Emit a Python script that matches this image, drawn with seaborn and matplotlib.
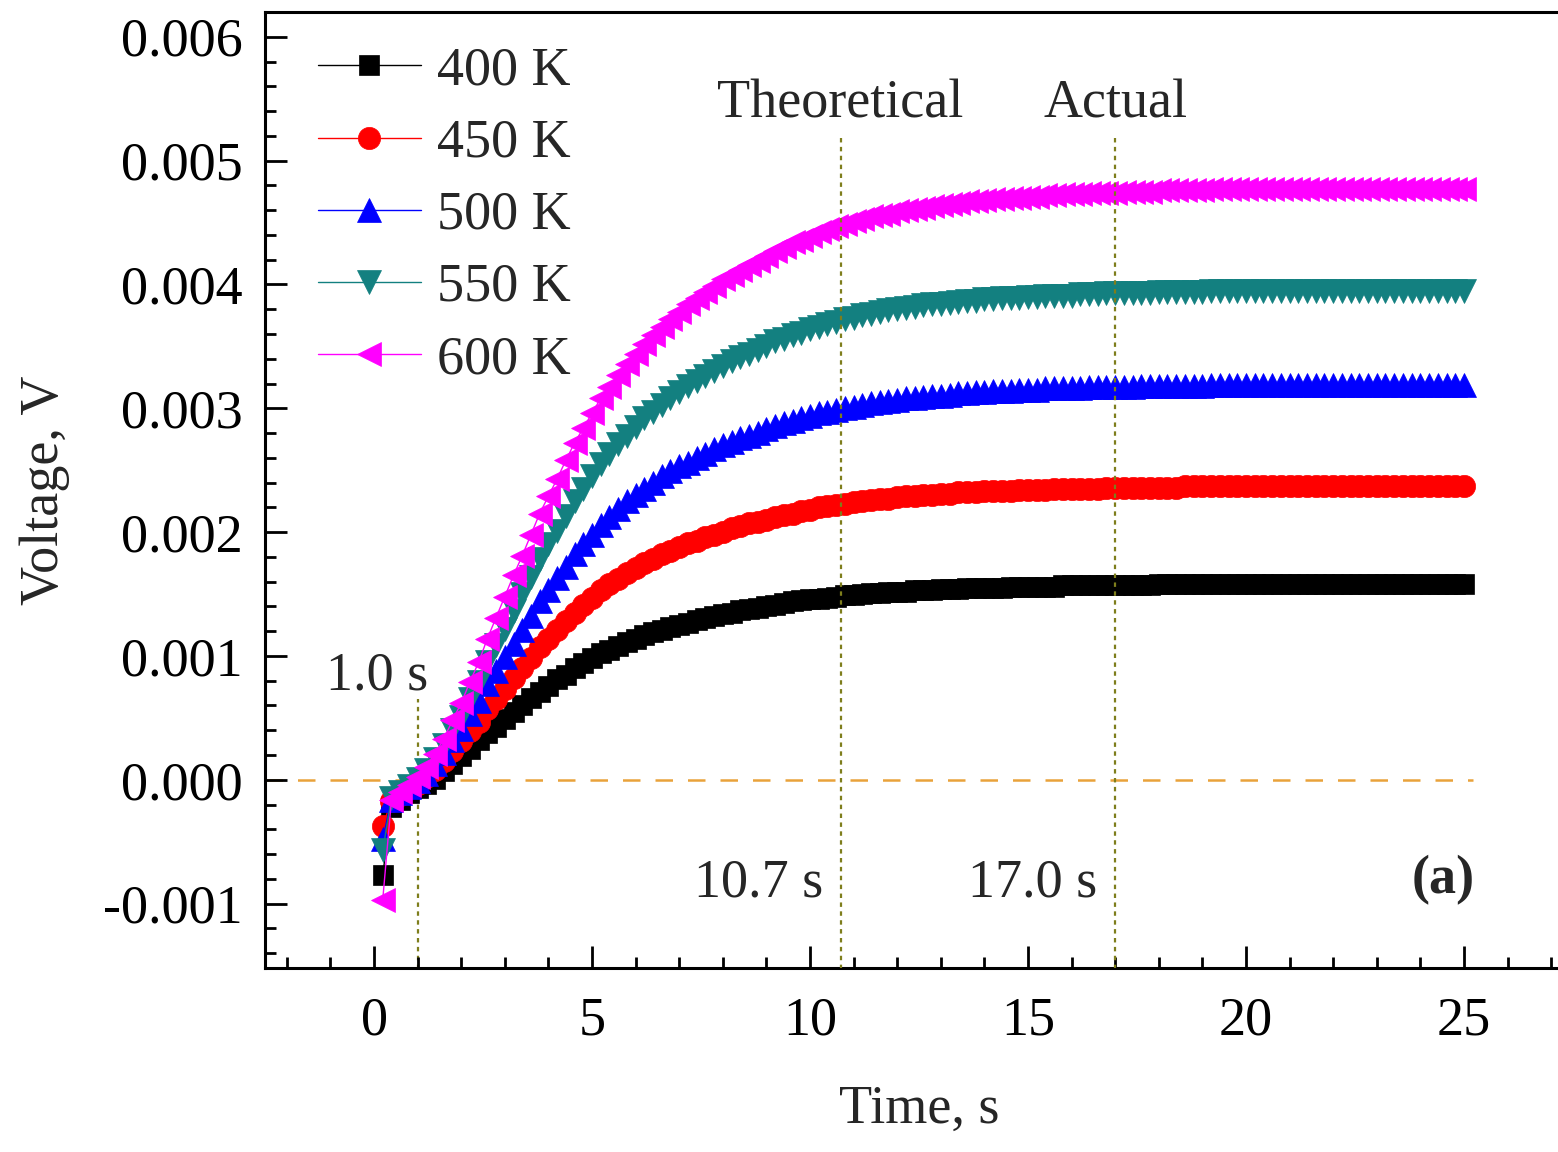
import matplotlib
matplotlib.use("Agg")
import matplotlib.pyplot as plt
from matplotlib.ticker import MultipleLocator, FuncFormatter
import numpy as np
import pandas as pd
import seaborn as sns

# ---- data: thermoelectric voltage response (mV) sampled every 0.2 s ----
time_s = [
    0.2, 0.4, 0.6, 0.8, 1.0, 1.2, 1.4, 1.6, 1.8, 2.0,
    2.2, 2.4, 2.6, 2.8, 3.0, 3.2, 3.4, 3.6, 3.8, 4.0,
    4.2, 4.4, 4.6, 4.8, 5.0, 5.2, 5.4, 5.6, 5.8, 6.0,
    6.2, 6.4, 6.6, 6.8, 7.0, 7.2, 7.4, 7.6, 7.8, 8.0,
    8.2, 8.4, 8.6, 8.8, 9.0, 9.2, 9.4, 9.6, 9.8, 10.0,
    10.2, 10.4, 10.6, 10.8, 11.0, 11.2, 11.4, 11.6, 11.8, 12.0,
    12.2, 12.4, 12.6, 12.8, 13.0, 13.2, 13.4, 13.6, 13.8, 14.0,
    14.2, 14.4, 14.6, 14.8, 15.0, 15.2, 15.4, 15.6, 15.8, 16.0,
    16.2, 16.4, 16.6, 16.8, 17.0, 17.2, 17.4, 17.6, 17.8, 18.0,
    18.2, 18.4, 18.6, 18.8, 19.0, 19.2, 19.4, 19.6, 19.8, 20.0,
    20.2, 20.4, 20.6, 20.8, 21.0, 21.2, 21.4, 21.6, 21.8, 22.0,
    22.2, 22.4, 22.6, 22.8, 23.0, 23.2, 23.4, 23.6, 23.8, 24.0,
    24.2, 24.4, 24.6, 24.8, 25.0,
]

v400_mV = [
    -0.77, -0.22, -0.16, -0.11, -0.07, -0.03, 0.01, 0.07, 0.13, 0.19,
    0.25, 0.32, 0.38, 0.43, 0.49, 0.55, 0.60, 0.66, 0.71, 0.76,
    0.81, 0.85, 0.90, 0.94, 0.98, 1.02, 1.05, 1.08, 1.11, 1.14,
    1.17, 1.19, 1.21, 1.23, 1.25, 1.27, 1.29, 1.31, 1.32, 1.34,
    1.35, 1.37, 1.38, 1.39, 1.40, 1.41, 1.43, 1.44, 1.45, 1.46,
    1.46, 1.47, 1.48, 1.49, 1.49, 1.50, 1.51, 1.51, 1.52, 1.52,
    1.52, 1.53, 1.53, 1.53, 1.54, 1.54, 1.54, 1.55, 1.55, 1.55,
    1.55, 1.55, 1.56, 1.56, 1.56, 1.56, 1.56, 1.56, 1.57, 1.57,
    1.57, 1.57, 1.57, 1.57, 1.57, 1.57, 1.57, 1.57, 1.57, 1.58,
    1.58, 1.58, 1.58, 1.58, 1.58, 1.58, 1.58, 1.58, 1.58, 1.58,
    1.58, 1.58, 1.58, 1.58, 1.58, 1.58, 1.58, 1.58, 1.58, 1.58,
    1.58, 1.58, 1.58, 1.58, 1.58, 1.58, 1.58, 1.58, 1.58, 1.58,
    1.58, 1.58, 1.58, 1.58, 1.58,
]

v450_mV = [
    -0.37, -0.17, -0.12, -0.07, -0.03, 0.02, 0.08, 0.15, 0.23, 0.31,
    0.39, 0.47, 0.57, 0.65, 0.73, 0.82, 0.90, 0.98, 1.07, 1.14,
    1.21, 1.28, 1.35, 1.41, 1.47, 1.53, 1.58, 1.62, 1.67, 1.71,
    1.75, 1.78, 1.82, 1.85, 1.88, 1.91, 1.93, 1.96, 1.98, 2.00,
    2.03, 2.05, 2.07, 2.08, 2.10, 2.12, 2.14, 2.15, 2.17, 2.18,
    2.20, 2.21, 2.22, 2.23, 2.24, 2.25, 2.26, 2.27, 2.27, 2.28,
    2.29, 2.29, 2.30, 2.30, 2.31, 2.31, 2.32, 2.32, 2.32, 2.33,
    2.33, 2.33, 2.33, 2.34, 2.34, 2.34, 2.34, 2.35, 2.35, 2.35,
    2.35, 2.35, 2.35, 2.36, 2.36, 2.36, 2.36, 2.36, 2.36, 2.36,
    2.36, 2.36, 2.37, 2.37, 2.37, 2.37, 2.37, 2.37, 2.37, 2.37,
    2.37, 2.37, 2.37, 2.37, 2.37, 2.37, 2.37, 2.37, 2.37, 2.37,
    2.37, 2.37, 2.37, 2.37, 2.37, 2.37, 2.37, 2.37, 2.37, 2.37,
    2.37, 2.37, 2.37, 2.37, 2.37,
]

v500_mV = [
    -0.48, -0.16, -0.11, -0.06, -0.01, 0.05, 0.13, 0.22, 0.32, 0.41,
    0.53, 0.64, 0.77, 0.88, 0.99, 1.10, 1.21, 1.32, 1.44, 1.53,
    1.63, 1.72, 1.82, 1.90, 1.98, 2.06, 2.12, 2.19, 2.25, 2.30,
    2.35, 2.40, 2.45, 2.49, 2.53, 2.56, 2.60, 2.63, 2.67, 2.70,
    2.73, 2.76, 2.78, 2.80, 2.83, 2.86, 2.88, 2.90, 2.92, 2.94,
    2.96, 2.97, 2.99, 3.00, 3.01, 3.03, 3.04, 3.05, 3.06, 3.07,
    3.08, 3.08, 3.09, 3.10, 3.10, 3.11, 3.12, 3.12, 3.13, 3.13,
    3.14, 3.14, 3.14, 3.15, 3.15, 3.15, 3.16, 3.16, 3.16, 3.16,
    3.16, 3.17, 3.17, 3.17, 3.17, 3.17, 3.17, 3.18, 3.18, 3.18,
    3.18, 3.18, 3.18, 3.18, 3.18, 3.19, 3.19, 3.19, 3.19, 3.19,
    3.19, 3.19, 3.19, 3.19, 3.19, 3.19, 3.19, 3.19, 3.19, 3.19,
    3.19, 3.19, 3.19, 3.19, 3.19, 3.19, 3.19, 3.19, 3.19, 3.19,
    3.19, 3.19, 3.19, 3.19, 3.19,
]

v550_mV = [
    -0.57, -0.15, -0.10, -0.05, 0.01, 0.08, 0.17, 0.28, 0.40, 0.51,
    0.65, 0.79, 0.95, 1.09, 1.22, 1.36, 1.50, 1.64, 1.78, 1.90,
    2.01, 2.13, 2.25, 2.35, 2.45, 2.55, 2.63, 2.71, 2.78, 2.85,
    2.92, 2.97, 3.03, 3.08, 3.13, 3.18, 3.22, 3.26, 3.30, 3.34,
    3.38, 3.41, 3.44, 3.47, 3.50, 3.54, 3.56, 3.59, 3.61, 3.64,
    3.66, 3.68, 3.70, 3.72, 3.73, 3.75, 3.76, 3.78, 3.79, 3.80,
    3.81, 3.82, 3.83, 3.84, 3.84, 3.85, 3.86, 3.87, 3.87, 3.88,
    3.88, 3.89, 3.89, 3.89, 3.90, 3.90, 3.91, 3.91, 3.91, 3.91,
    3.92, 3.92, 3.92, 3.93, 3.93, 3.93, 3.93, 3.93, 3.93, 3.94,
    3.94, 3.94, 3.94, 3.94, 3.94, 3.95, 3.95, 3.95, 3.95, 3.95,
    3.95, 3.95, 3.95, 3.95, 3.95, 3.95, 3.95, 3.95, 3.95, 3.95,
    3.95, 3.95, 3.95, 3.95, 3.95, 3.95, 3.95, 3.95, 3.95, 3.95,
    3.95, 3.95, 3.95, 3.95, 3.95,
]

v600_mV = [
    -0.97, -0.16, -0.10, -0.04, 0.02, 0.10, 0.21, 0.33, 0.48, 0.62,
    0.79, 0.95, 1.14, 1.31, 1.48, 1.65, 1.81, 1.98, 2.15, 2.29,
    2.43, 2.58, 2.72, 2.84, 2.96, 3.08, 3.17, 3.27, 3.36, 3.44,
    3.52, 3.59, 3.66, 3.72, 3.78, 3.84, 3.89, 3.94, 3.99, 4.04,
    4.08, 4.12, 4.16, 4.19, 4.23, 4.27, 4.30, 4.34, 4.36, 4.39,
    4.42, 4.45, 4.47, 4.49, 4.51, 4.53, 4.55, 4.56, 4.57, 4.59,
    4.60, 4.61, 4.62, 4.63, 4.64, 4.65, 4.66, 4.67, 4.67, 4.68,
    4.69, 4.69, 4.70, 4.70, 4.71, 4.71, 4.72, 4.72, 4.73, 4.73,
    4.73, 4.74, 4.74, 4.74, 4.74, 4.75, 4.75, 4.75, 4.75, 4.76,
    4.76, 4.76, 4.76, 4.76, 4.76, 4.77, 4.77, 4.77, 4.77, 4.77,
    4.77, 4.77, 4.77, 4.77, 4.77, 4.77, 4.77, 4.77, 4.77, 4.77,
    4.77, 4.77, 4.77, 4.77, 4.77, 4.77, 4.77, 4.77, 4.77, 4.77,
    4.77, 4.77, 4.77, 4.77, 4.77,
]

series_labels = ["400 K", "450 K", "500 K", "550 K", "600 K"]
series_values = [v400_mV, v450_mV, v500_mV, v550_mV, v600_mV]
series_colors = ["#000000", "#FF0000", "#0000FF", "#138080", "#FF00FF"]
series_markers = ["s", "o", "^", "v", "<"]
series_msize = [14, 16, 17, 17, 17]

# reference times (s) marked on the plot
delay_time = 1.0
theoretical_time = 10.7
actual_time = 17.0

# ---- style ----
sns.set_style("ticks")
plt.rcParams["font.family"] = ["Liberation Serif", "DejaVu Serif"]
plt.rcParams["axes.unicode_minus"] = False
FS = 39

fig = plt.figure(figsize=(15.58, 11.52), dpi=100)
ax = fig.add_axes([0.1701, 0.1597, 0.8395, 0.8299])

for lab, vals, col, mk, ms in zip(series_labels, series_values, series_colors,
                                  series_markers, series_msize):
    df = pd.DataFrame({"Time": time_s, "Voltage": np.array(vals) * 1e-3})
    sns.lineplot(data=df, x="Time", y="Voltage", ax=ax, color=col, marker=mk,
                 markersize=ms, markeredgecolor=col, markeredgewidth=0.5,
                 linewidth=1.0, label=lab, estimator=None, sort=False)

# reference lines
ax.hlines(0.0, -2.5, 25.2, colors="#E9A23B", linestyles=(0, (7, 6)),
          linewidth=1.8, zorder=0.5)
ax.vlines(delay_time, -0.0016, 0.00065, colors="#7E7E1C",
          linestyles=(0, (2, 2)), linewidth=1.6, zorder=0.5)
ax.vlines([theoretical_time, actual_time], -0.0016, 0.0052, colors="#7E7E1C",
          linestyles=(0, (2, 2)), linewidth=1.6, zorder=3)

# annotations
ax.text(theoretical_time, 0.00535, "Theoretical", ha="center", va="baseline",
        fontsize=FS)
ax.text(actual_time, 0.00535, "Actual", ha="center", va="baseline", fontsize=FS)
ax.text(10.3, -0.00094, "10.7 s", ha="right", va="baseline", fontsize=FS)
ax.text(16.6, -0.00094, "17.0 s", ha="right", va="baseline", fontsize=FS)
ax.text(0.07, 0.00073, "1.0 s", ha="center", va="baseline", fontsize=FS)
ax.text(25.25, -0.00092, "(a)", ha="right", va="baseline", fontsize=FS,
        fontweight="bold")

# axes limits and ticks
ax.set_xlim(-2.5, 27.5)
ax.set_ylim(-0.00152, 0.0062)
ax.xaxis.set_major_locator(MultipleLocator(5))
ax.xaxis.set_minor_locator(MultipleLocator(1))
ax.yaxis.set_major_locator(MultipleLocator(0.001))
ax.yaxis.set_minor_locator(MultipleLocator(0.0002))
ax.yaxis.set_major_formatter(FuncFormatter(lambda v, p: f"{v:.3f}".replace("-0.000", "0.000")))
ax.xaxis.set_major_formatter(FuncFormatter(lambda v, p: f"{v:.0f}"))
ax.tick_params(which="both", direction="in", width=2, colors="black",
               top=False, right=False, labelsize=FS)
ax.tick_params(which="major", length=16)
ax.tick_params(which="minor", length=8)
ax.tick_params(axis="y", which="major", pad=16)
ax.tick_params(axis="x", which="major", pad=20)
for sp in ax.spines.values():
    sp.set_linewidth(2.2)
    sp.set_color("black")

ax.set_xlabel("Time, s", fontsize=FS)
ax.set_ylabel("Voltage, V", fontsize=FS)
ax.xaxis.set_label_coords(0.5, -0.122)
ax.yaxis.set_label_coords(-0.149, 0.5)

leg = ax.legend(loc="upper left", bbox_to_anchor=(0.0405, 0.9645),
                borderaxespad=0, borderpad=0, frameon=False, fontsize=FS,
                handlelength=1.9, handletextpad=0.3, labelspacing=0.4)

fig.savefig("out.png", dpi=100)
